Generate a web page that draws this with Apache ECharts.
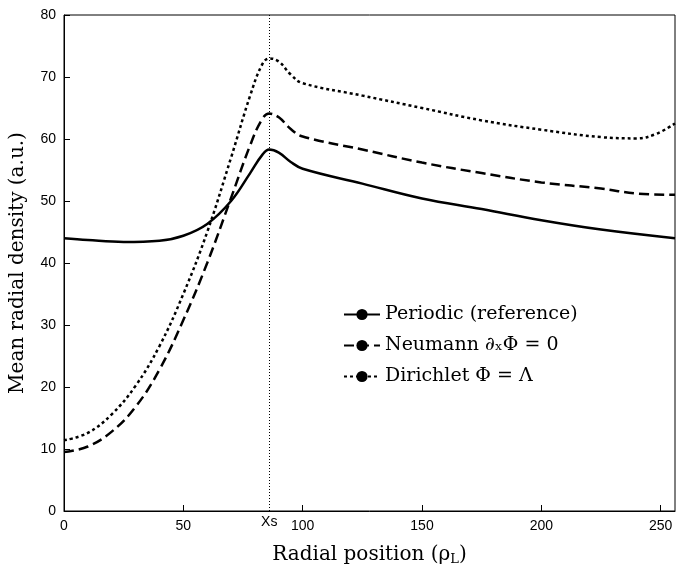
<!DOCTYPE html>
<html>
<head>
<meta charset="utf-8">
<script src="https://cdn.jsdelivr.net/npm/echarts@6/dist/echarts.min.js"></script>
<style>html,body{margin:0;padding:0;background:#fff}#chart{width:682px;height:571px}</style>
</head>
<body>
<div id="chart"></div>
<script>
var xsPos = 86;
var periodic = [[0,44],[10,43.7],[25,43.4],[40,43.6],[50,44.4],[60,46.3],[70,50],[78,54.5],[83,57.4],[86,58.3],[90,57.8],[95,56.3],[100,55.2],[125,52.8],[150,50.4],[175,48.7],[200,46.9],[225,45.4],[256,44]];
var neumann = [[0,9.5],[10,10.4],[20,12.8],[30,16.8],[40,22.8],[50,30.8],[60,40],[70,50.5],[78,59],[83,63.2],[86,64.1],[90,63.5],[95,61.6],[100,60.4],[125,58.3],[150,56.2],[175,54.5],[200,53],[225,52],[240,51.2],[256,51]];
var dirichlet = [[0,11.4],[10,12.6],[20,15.6],[30,20.2],[40,26.6],[50,35],[60,45],[70,57],[78,67],[83,72],[86,73],[90,72.5],[95,70.4],[100,69],[125,67],[150,65],[175,63],[200,61.5],[225,60.3],[240,60.1],[248,60.8],[256,62.5]];

var chart = echarts.init(document.getElementById('chart'));
var serif = 'DejaVu Serif';
chart.setOption({
    animation: false,
    grid: { left: 62, right: 7, top: 15, bottom: 59, show: true, borderColor: '#000', borderWidth: 1 },
    legend: {
        orient: 'vertical', left: 338, top: 300, itemGap: 12, itemWidth: 36, itemHeight: 14,
        textStyle: { fontFamily: serif, fontSize: 19, color: '#000' },
        data: ['Periodic (reference)', 'Neumann ∂ₓΦ = 0', 'Dirichlet Φ = Λ']
    },
    xAxis: {
        type: 'value', min: 0, max: 256, interval: 50,
        name: '{a|Radial position (ρ}{s|L}{a|)}', nameLocation: 'middle', nameGap: 32,
        nameTextStyle: { rich: {
            a: { fontFamily: serif, fontSize: 20, color: '#000' },
            s: { fontFamily: serif, fontSize: 13, color: '#000', padding: [10, 0, 0, 0] } } },
        axisLine: { lineStyle: { color: '#000' } },
        axisTick: { inside: true, length: 6, lineStyle: { color: '#000' } },
        axisLabel: { color: '#000', fontSize: 14, fontFamily: 'Liberation Sans', showMaxLabel: false },
        splitLine: { show: false }
    },
    yAxis: {
        type: 'value', min: 0, max: 80, interval: 10,
        name: 'Mean radial density (a.u.)', nameLocation: 'middle', nameGap: 36,
        nameTextStyle: { fontFamily: serif, fontSize: 20, color: '#000' },
        axisLine: { show: true, lineStyle: { color: '#000' } },
        axisTick: { inside: true, length: 6, lineStyle: { color: '#000' } },
        axisLabel: { color: '#000', fontSize: 14, fontFamily: 'Liberation Sans' },
        splitLine: { show: false }
    },
    series: [
        { name: 'Periodic (reference)', type: 'line', data: periodic, smooth: 0.4, symbol: 'none',
          lineStyle: { color: '#000', width: 2.5, type: 'solid' }, itemStyle: { color: '#000' },
          markLine: { silent: true, symbol: 'none', data: [{ xAxis: xsPos }],
              lineStyle: { color: '#000', width: 1, type: [1, 2] },
              label: { position: 'start', formatter: 'Xs', color: '#000', fontSize: 14, fontFamily: 'Liberation Sans', distance: 4 } } },
        { name: 'Neumann ∂ₓΦ = 0', type: 'line', data: neumann, smooth: 0.4, symbol: 'none',
          lineStyle: { color: '#000', width: 2.5, type: [10, 5] }, itemStyle: { color: '#000' } },
        { name: 'Dirichlet Φ = Λ', type: 'line', data: dirichlet, smooth: 0.4, symbol: 'none',
          lineStyle: { color: '#000', width: 2.5, type: [3, 3] }, itemStyle: { color: '#000' } }
    ]
});
</script>
</body>
</html>
